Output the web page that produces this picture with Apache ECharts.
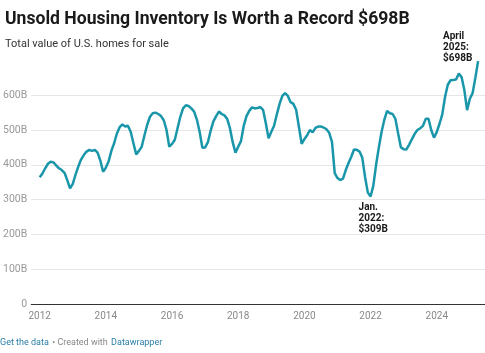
<!DOCTYPE html>
<html lang="en">
    <head>
        <meta charset="utf-8">
        <title>Unsold Housing Inventory</title>
        <script src="https://cdn.jsdelivr.net/npm/echarts@6.0.0/dist/echarts.min.js"></script>
        <style>
            html, body { margin: 0; padding: 0; background: #fff; }
            #chart { width: 485px; height: 353px; }
        </style>
    </head>
    <body>
        <div id="chart"></div>
    </body>
</html>

<script type="text/javascript">
    // monthly total value of homes for sale, $B, from Jan 2012
    let firstYear = 2012;
    let inventory = [
        364, 375, 390, 403, 409, 407, 398, 390, 385, 377, 356, 332,   // 2012
        345, 372, 395, 415, 428, 438, 443, 440, 443, 435, 412, 380,   // 2013
        392, 410, 440, 462, 490, 508, 516, 510, 512, 495, 462, 430,   // 2014
        440, 452, 485, 515, 538, 548, 550, 546, 540, 528, 500, 452,   // 2015
        460, 472, 505, 538, 562, 571, 569, 562, 553, 530, 495, 449,   // 2016
        450, 465, 498, 525, 540, 553, 546, 542, 532, 505, 465, 435,   // 2017
        452, 468, 512, 540, 555, 565, 562, 563, 566, 558, 520, 476,   // 2018
        495, 512, 545, 575, 598, 606, 598, 580, 575, 558, 510, 460,   // 2019
        474, 485, 500, 493, 506, 510, 510, 507, 502, 492, 466, 376,   // 2020
        362, 356, 360, 385, 405, 423, 444, 443, 438, 420, 365, 320,   // 2021
        309, 340, 400, 450, 495, 530, 555, 548, 546, 532, 490, 450,   // 2022
        445, 444, 458, 474, 489, 500, 505, 512, 532, 532, 500, 478,   // 2023
        494, 518, 545, 595, 630, 643, 644, 645, 662, 652, 615, 557,   // 2024
        590, 606, 650, 698                                            // 2025
    ];
    let yearTicks = [2012, 2014, 2016, 2018, 2020, 2022, 2024];
    let notes = [
        { index: 120, lines: ['Jan.', '2022:', '$309B'], dx: -12, dy: 6 },
        { index: 159, lines: ['April', '2025:', '$698B'], dx: -35, dy: -30 }
    ];

    let seriesData = inventory.map((v, i) => [firstYear + i / 12, v]);

    let Chart = echarts.init(document.getElementById('chart'));

    let gridColors = ['#e6e6e6', '#e6e6e6', '#e6e6e6', '#e6e6e6', '#e6e6e6', '#e6e6e6', '#e6e6e6', 'rgba(0,0,0,0)'];

    let option = {
        animation: false,
        textStyle: { fontFamily: 'Roboto' },
        title: {
            left: 0,
            top: 4,
            itemGap: 6,
            text: 'Unsold Housing Inventory Is Worth a Record $698B',
            subtext: 'Total value of U.S. homes for sale',
            textStyle: { fontSize: 17.6, fontWeight: 'bold', color: '#1a1a1a', lineHeight: 22, fontFamily: 'Roboto' },
            subtextStyle: { fontSize: 11, color: '#333', lineHeight: 14, fontFamily: 'Roboto' }
        },
        grid: { left: 27, right: 0, top: 60.4, bottom: 49, containLabel: false },
        xAxis: {
            type: 'value',
            min: 2011.745,
            max: 2025.458,
            splitLine: { show: false },
            axisTick: { show: false },
            axisLine: { show: true, onZero: false, lineStyle: { color: '#333', width: 1.2 } },
            axisLabel: {
                customValues: yearTicks,
                margin: 7,
                fontSize: 10,
                color: '#888',
                formatter: (v) => String(v)
            }
        },
        yAxis: {
            type: 'value',
            min: 0,
            max: 700,
            interval: 100,
            axisLine: { show: false },
            axisTick: { show: false },
            splitLine: { lineStyle: { color: gridColors, width: 1 } },
            axisLabel: {
                margin: 4,
                fontSize: 10.5,
                color: '#999',
                formatter: (v) => v === 0 ? '0' : (v >= 700 ? '' : v + 'B')
            }
        },
        series: [
            {
                name: 'Inventory',
                type: 'line',
                data: seriesData,
                showSymbol: false,
                smooth: false,
                lineStyle: { color: '#1a96aa', width: 2.5 },
                itemStyle: { color: '#1a96aa' }
            }
        ],
        graphic: [
            {
                type: 'text',
                left: 0,
                top: 337,
                style: {
                    text: '{a|Get the data} {b|• Created with} {a|Datawrapper}',
                    rich: {
                        a: { fill: '#2a7ea6', fontSize: 9, fontFamily: 'Roboto' },
                        b: { fill: '#888', fontSize: 9, fontFamily: 'Roboto' }
                    }
                }
            }
        ]
    };

    Chart.setOption(option);

    // annotations next to their data points
    let noteGraphics = notes.map((n) => {
        let p = Chart.convertToPixel({ seriesIndex: 0 }, seriesData[n.index]);
        return {
            type: 'text',
            x: p[0] + n.dx,
            y: p[1] + n.dy,
            style: {
                text: n.lines.join('\n'),
                fill: '#1a1a1a',
                fontSize: 10,
                fontWeight: 'bold',
                lineHeight: 11,
                fontFamily: 'Roboto'
            }
        };
    });
    Chart.setOption({ graphic: option.graphic.concat(noteGraphics) });
</script>
